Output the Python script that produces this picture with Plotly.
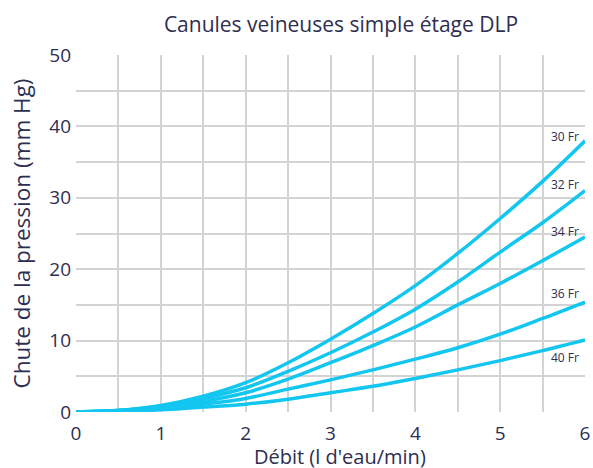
import plotly.graph_objects as go

# ── Data ─────────────────────────────────────────────────────────────────────
debit = [0, 0.5, 1, 1.5, 2, 2.5, 3, 3.5, 4, 4.5, 5, 5.5, 6]

fr30 = [0, 0.2, 0.9, 2.2, 4.1, 6.9, 10.2, 13.8, 17.7, 22.2, 27.1, 32.3, 38.0]
fr32 = [0, 0.2, 0.8, 1.9, 3.4, 5.7, 8.3, 11.2, 14.4, 18.2, 22.4, 26.5, 31.0]
fr34 = [0, 0.2, 0.7, 1.5, 2.7, 4.6, 6.9, 9.3, 11.9, 15.0, 18.0, 21.2, 24.5]
fr36 = [0, 0.2, 0.5, 1.1, 1.9, 3.2, 4.5, 5.9, 7.4, 9.0, 10.9, 13.1, 15.4]
fr40 = [0, 0.1, 0.3, 0.7, 1.1, 1.8, 2.7, 3.6, 4.7, 5.9, 7.2, 8.6, 10.1]

series = [("30 Fr", fr30), ("32 Fr", fr32), ("34 Fr", fr34), ("36 Fr", fr36), ("40 Fr", fr40)]
label_y = [38.6, 31.9, 25.3, 16.6, 7.7]

x_ticks = [0, 0.5, 1, 1.5, 2, 2.5, 3, 3.5, 4, 4.5, 5, 5.5, 6]
x_text = ["0", "", "1", "", "2", "", "3", "", "4", "", "5", "", "6"]
y_ticks = [0, 5, 10, 15, 20, 25, 30, 35, 40, 45, 50]
y_text = ["0", "", "10", "", "20", "", "30", "", "40", "", "50"]

LINE = "#12c6f0"
INK = "#2e2e50"
GRID = "#d3d3d3"
FONT = "Open Sans"

fig = go.Figure()

for (name, vals), ly in zip(series, label_y):
    fig.add_trace(go.Scatter(
        x=debit, y=vals, mode="lines", name=name,
        line=dict(color=LINE, width=3.5, shape="spline", smoothing=1),
        showlegend=False,
    ))
    fig.add_annotation(
        x=5.95, y=ly, text=name, showarrow=False,
        xanchor="right", yanchor="middle",
        font=dict(family=FONT, size=12, color=INK),
    )

# x title sits a little right of the plot centre in the original
fig.add_annotation(
    text="Débit (l d'eau/min)", xref="paper", yref="paper",
    x=0.519, y=-0.124, xanchor="center", yanchor="middle", showarrow=False,
    font=dict(family=FONT, size=20, color=INK),
)

fig.update_layout(
    width=593, height=468,
    margin=dict(l=76, r=8, t=55, b=56, autoexpand=False),
    paper_bgcolor="white", plot_bgcolor="white",
    font=dict(family=FONT, color=INK),
    title=dict(
        text="Canules veineuses simple étage DLP",
        x=0.575, xanchor="center", y=0.9466, yanchor="middle",
        font=dict(family=FONT, size=21, color=INK),
    ),
)

fig.update_xaxes(
    range=[0, 6], tickvals=x_ticks, ticktext=x_text, automargin=False,
    showgrid=True, gridcolor=GRID, gridwidth=1.5, zeroline=False, showline=False,
    ticks="", ticklabelstandoff=8, ticklabeloverflow="allow",
    tickfont=dict(family=FONT, size=19, color=INK),
)
fig.update_yaxes(
    range=[0, 50], tickvals=y_ticks, ticktext=y_text, automargin=False,
    showgrid=True, gridcolor=GRID, gridwidth=1.5, zeroline=False, showline=False,
    ticks="", ticklabelstandoff=4,
    tickfont=dict(family=FONT, size=19, color=INK),
    title=dict(text="Chute de la pression (mm Hg)", font=dict(family=FONT, size=22.5, color=INK), standoff=12),
)

# drop the default page margin so the figure sits at the window's corner
fig.write_html(
    "out.html",
    config={"displayModeBar": False},
    post_script="document.body.style.margin='0';document.body.style.overflow='hidden';",
)
